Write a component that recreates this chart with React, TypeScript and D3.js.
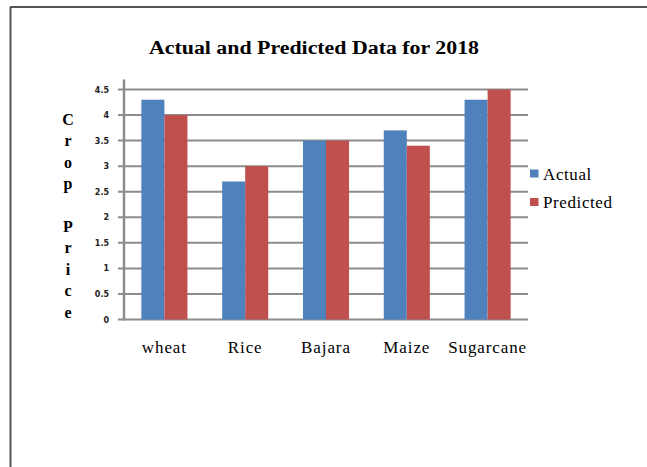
import React from "react";
import * as d3 from "d3";

const categories = ["wheat", "Rice", "Bajara", "Maize", "Sugarcane"];
const actual = [4.3, 2.7, 3.5, 3.7, 4.3];
const predicted = [4.0, 3.0, 3.5, 3.4, 4.5];
const yTicks = [0, 0.5, 1, 1.5, 2, 2.5, 3, 3.5, 4, 4.5];
const seriesNames = ["Actual", "Predicted"];
const colors = ["#4F81BD", "#C0504D"];
const titleText = "Actual and Predicted Data for 2018";
const yTitleLines = ["C", "r", "o", "p", "", "P", "r", "i", "c", "e"];

export default function App() {
  const W = 647, H = 467;
  const x0 = 124, x1 = 528, yTop = 89.5, yBot = 319.5;
  const x = d3.scaleBand<string>().domain(categories).range([x0, x1]).paddingInner(0.43).paddingOuter(0.215);
  const xs = d3.scaleBand<string>().domain(seriesNames).range([0, x.bandwidth()]);
  const y = d3.scaleLinear().domain([0, 4.5]).range([yBot, yTop]);
  const xc = d3.scaleBand<string>().domain(categories).range([x0, x1]);
  const serif = "'Liberation Serif', 'Times New Roman', serif";
  const data = [actual, predicted];
  return (
    <svg width={W} height={H} style={{ position: "absolute", left: 0, top: 0, background: "#fff" }}>
      <rect x={0} y={0} width={W} height={H} fill="#fff" />
      <line x1={10} y1={7} x2={W} y2={7} stroke="#555" strokeWidth={2} />
      <line x1={10.5} y1={7} x2={10.5} y2={H} stroke="#555" strokeWidth={2} />
      <text x={149} y={54} textLength={330} lengthAdjust="spacingAndGlyphs" fontFamily={serif} fontWeight="bold" fontSize={18.5}>{titleText}</text>
      {yTicks.map((t) => (
        <g key={t}>
          <line x1={118} x2={x1} y1={y(t)} y2={y(t)} stroke="#8c8c8c" strokeWidth={2} />
          <text x={109} y={y(t) + 3} textAnchor="end" fontFamily="'DejaVu Sans', sans-serif" fontSize={8} fontWeight="bold" fill="#222">{String(t)}</text>
        </g>
      ))}
      <line x1={x0} x2={x0} y1={y(4.5) - 10} y2={yBot + 1} stroke="#8c8c8c" strokeWidth={2.5} />
      {categories.map((c, i) => (
        <g key={c}>
          {data.map((s, j) => (
            <rect key={j} x={(x(c) as number) + (xs(seriesNames[j]) as number)} y={y(s[i])} width={xs.bandwidth()} height={yBot - y(s[i])} fill={colors[j]} />
          ))}
          <text x={(xc(c) as number) + xc.bandwidth() / 2} y={353} textAnchor="middle" fontFamily={serif} fontSize={17} letterSpacing={0.9}>{c}</text>
        </g>
      ))}
      {yTitleLines.map((l, i) => (
        <text key={i} x={68} y={125 + i * 21.4} textAnchor="middle" fontFamily={serif} fontWeight="bold" fontSize={16}>{l}</text>
      ))}
      {seriesNames.map((n, j) => (
        <g key={n}>
          <rect x={530} y={169.5 + j * 28.5} width={8.5} height={8} fill={colors[j]} />
          <text x={543} y={180 + j * 28} fontFamily={serif} fontSize={17} letterSpacing={0.6}>{n}</text>
        </g>
      ))}
    </svg>
  );
}
